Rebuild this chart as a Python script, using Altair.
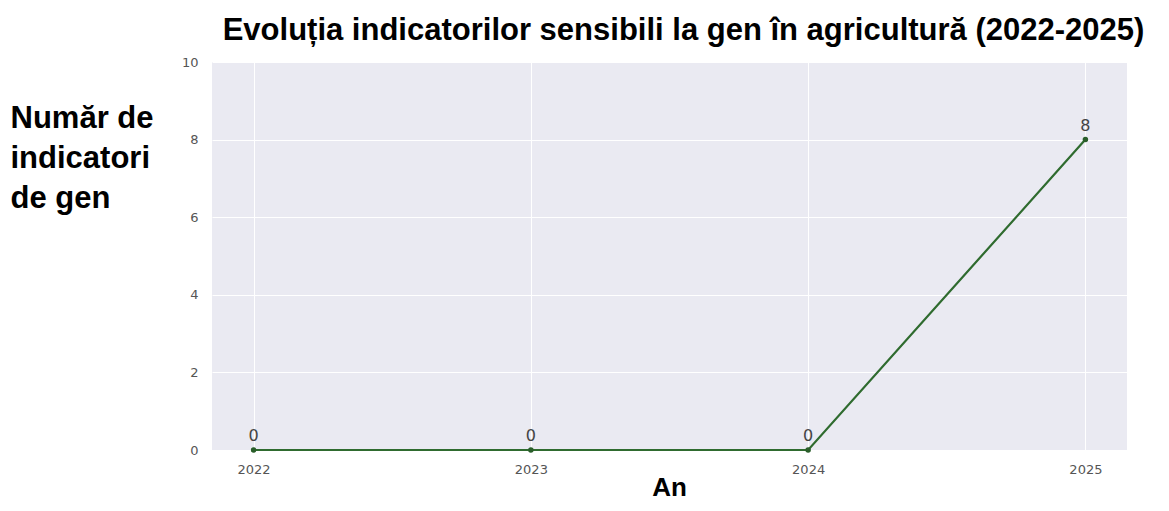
import altair as alt
import pandas as pd

years = [2022, 2023, 2024, 2025]
counts = [0, 0, 0, 8]
labels = ["0", "0", "0", "8"]

df = pd.DataFrame({"An": years, "Numar": counts, "Eticheta": labels})

x_grid = [2022, 2022.5, 2023, 2023.5, 2024, 2024.5, 2025]
y_ticks = [0, 2, 4, 6, 8, 10]

x = alt.X(
    "An:Q",
    scale=alt.Scale(domain=[2021.85, 2025.15], nice=False, zero=False),
    axis=alt.Axis(
        values=x_grid,
        format="d",
        labelExpr="datum.value % 1 == 0 ? datum.label : ''",
        title="An",
        titleFont="Liberation Sans",
        titleFontSize=26,
        titleFontWeight="bold",
        titleColor="#000000",
        titleBaseline="alphabetic",
        titleY=45,
        titleX=457,
        titleAlign="center",
        labelFont="DejaVu Sans",
        labelFontSize=13,
        labelColor="#555555",
        labelPadding=13,
        domain=False,
        ticks=False,
        grid=True,
        gridColor="#FFFFFF",
        gridWidth=1,
    ),
)

y = alt.Y(
    "Numar:Q",
    scale=alt.Scale(domain=[0, 10], nice=False),
    axis=alt.Axis(
        values=y_ticks,
        title=["Număr de", "indicatori", "de gen"],
        titleFont="Liberation Sans",
        titleFontSize=31,
        titleFontWeight="bold",
        titleColor="#000000",
        titleAngle=0,
        titleAlign="left",
        titleBaseline="top",
        titleX=-202,
        titleY=41,
        titleLineHeight=40,
        labelFont="DejaVu Sans",
        labelFontSize=13,
        labelColor="#555555",
        labelPadding=14,
        domain=False,
        ticks=False,
        grid=True,
        gridColor="#FFFFFF",
        gridWidth=1,
    ),
)

base = alt.Chart(df)

line = base.mark_line(color="#2f6b2f", strokeWidth=2.2).encode(x=x, y=y)
points = base.mark_circle(color="#2a5e2a", size=30, opacity=1).encode(x=x, y=y)
text = base.mark_text(
    dy=-14, fontSize=16, color="#444444", font="DejaVu Sans"
).encode(x=x, y=y, text="Eticheta:N")

chart = (
    alt.layer(line, points, text)
    .properties(
        width=915,
        height=388,
        autosize=alt.AutoSizeParams(type="none"),
        padding={"left": 204, "top": 54, "right": 30, "bottom": 53},
        title=alt.TitleParams(
            "Evoluția indicatorilor sensibili la gen în agricultură (2022-2025)",
            font="Liberation Sans",
            fontSize=31,
            fontWeight="bold",
            color="#000000",
            anchor="middle",
            dx=14,
            offset=9,
        ),
    )
    .configure(background="#FFFFFF")
    .configure_view(fill="#EAEAF2", strokeWidth=0)
)

chart.save("out.html", embed_options={"renderer": "svg", "actions": False})
